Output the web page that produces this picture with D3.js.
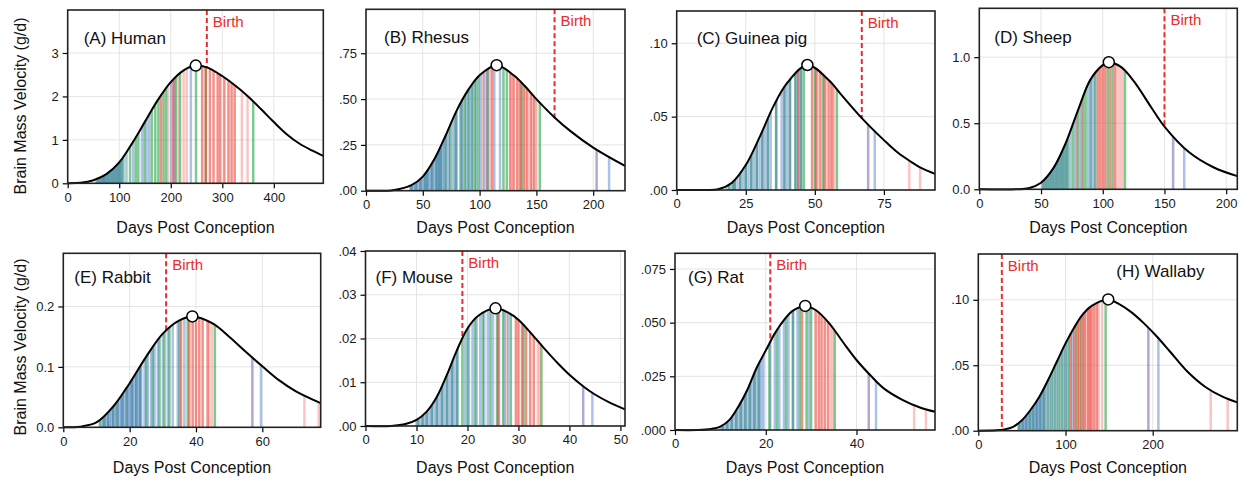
<!DOCTYPE html>
<html>
<head>
<meta charset="utf-8">
<script src="https://cdn.jsdelivr.net/npm/d3@7"></script>
<style>
  body { margin: 0; background: #fff; }
  svg text { font-family: "Liberation Sans", Arial, Helvetica, sans-serif; }
  .grid line { stroke: #e4e4e4; stroke-width: 1; }
  .axis path { display: none; }
  .axis line { stroke: #000; stroke-width: 1.2; }
  .axis text { font-size: 13px; fill: #1a1a1a; }
  .frame { fill: none; stroke: #222; stroke-width: 1.6; }
  .curve { fill: none; stroke: #000; stroke-width: 2; }
  .birth { stroke: #ee2a2a; stroke-width: 2; stroke-dasharray: 5,3; }
  .birth-label { fill: #ee2a2a; font-size: 15px; }
  .panel-title { font-size: 17px; fill: #111; }
  .axis-title { font-size: 16px; fill: #111; }
</style>
</head>
<body>
<div id="chart"></div>
<script>
// ---- data ----
const panelNames = ["(A) Human", "(B) Rhesus", "(C) Guinea pig", "(D) Sheep",
                    "(E) Rabbit", "(F) Mouse", "(G) Rat", "(H) Wallaby"];
const birthDays  = [270, 166, 67, 150, 31, 19, 21, 27];
const peakDays   = [248.5, 115, 47.3, 104.9, 38.9, 25.5, 28.7, 149];
const peakValues = [2.71, 0.685, 0.0852, 0.962, 0.1835, 0.0269, 0.0578, 0.1003];

const xTicks = [
  [0, 100, 200, 300, 400], [0, 50, 100, 150, 200], [0, 25, 50, 75], [0, 50, 100, 150, 200],
  [0, 20, 40, 60], [0, 10, 20, 30, 40, 50], [0, 20, 40], [0, 100, 200]
];
const yTicks = [
  [0, 1, 2, 3], [0, 0.25, 0.5, 0.75], [0, 0.05, 0.1], [0, 0.5, 1.0],
  [0, 0.1, 0.2], [0, 0.01, 0.02, 0.03, 0.04], [0, 0.025, 0.05, 0.075], [0, 0.05, 0.1]
];

// brain mass velocity curves: [day, g/d]
const curveA = [[0,0],[25,0.01],[50,0.07],[75,0.21],[100,0.48],[125,0.92],[150,1.42],[175,1.92],
  [200,2.33],[225,2.6],[248.5,2.71],[270,2.67],[300,2.47],[325,2.25],[350,2.0],[375,1.71],
  [400,1.41],[425,1.13],[450,0.91],[475,0.75],[496,0.63]];
const curveB = [[0,0],[25,0.004],[40,0.03],[50,0.077],[60,0.17],[70,0.3],[80,0.44],[90,0.55],
  [100,0.63],[115,0.685],[130,0.63],[140,0.57],[150,0.5],[166,0.4],[180,0.325],[200,0.235],[228,0.135]];
const curveC = [[0,0],[10,0],[15,0.0005],[20,0.005],[25,0.017],[30,0.036],[35,0.057],[40,0.073],
  [47.3,0.0852],[55,0.075],[60,0.064],[67,0.049],[75,0.034],[80,0.0255],[85,0.019],[89,0.0145],[93.5,0.011]];
const curveD = [[0,0],[30,0],[40,0.008],[50,0.05],[60,0.16],[70,0.35],[80,0.6],[90,0.83],
  [100,0.94],[104.9,0.962],[115,0.925],[125,0.82],[140,0.61],[150,0.475],[170,0.28],[190,0.165],[209,0.1]];
const curveE = [[0,0],[5,0.001],[10,0.008],[15,0.034],[20,0.073],[25,0.117],[30,0.155],[35,0.177],
  [38.9,0.1835],[45,0.172],[50,0.15],[55,0.125],[60,0.101],[65,0.078],[70,0.06],[77.6,0.04]];
const curveF = [[0,0],[5,0],[8,0.0005],[10,0.0014],[12,0.0033],[14,0.0067],[16,0.0118],[18,0.0175],
  [20,0.0223],[22,0.0251],[25.5,0.0269],[28,0.0259],[30,0.0243],[33,0.0205],[35,0.0178],[38,0.014],
  [40,0.0117],[43,0.0088],[45,0.0072],[48,0.0053],[50.9,0.0038]];
const curveG = [[0,0],[5,0],[8,0.0005],[10,0.0016],[12,0.0047],[14,0.011],[16,0.019],[18,0.029],
  [20,0.037],[22,0.045],[24,0.0512],[26,0.0556],[28.7,0.0578],[31,0.0559],[34,0.0497],[37,0.041],
  [40,0.0326],[43,0.0256],[46,0.0194],[50,0.0142],[54,0.0105],[57.3,0.0085]];
const curveH = [[0,0],[20,0.0003],[30,0.001],[40,0.003],[50,0.008],[60,0.016],[70,0.026],[80,0.0387],
  [90,0.0527],[100,0.0667],[110,0.0789],[120,0.089],[130,0.0954],[149,0.1003],[160,0.0972],
  [175,0.0908],[190,0.082],[205,0.0718],[220,0.0603],[240,0.045],[260,0.0336],[280,0.026],[297,0.0216]];

// coloured gene-timing stripes (days), one list per colour
const greenA = [56,60,64,68,71,75,79,83,87,91,95,99,103,108,121,132,137,149,163,170,176,186,191,210,218,249,268,360];
const blueA  = [58,62,66,70,73,77,81,85,89,93,97,101,105,114,127,144,153,158,201,207,239];
const redA   = [181,205,261,268,276,283,291,296,304,312,318,324];
const pinkA  = [195,215,225,231,338,349];

const greenB = [40,44,48,52,54,58,62,64,66,70,74,79,84,87,90,93,96,99,107,121,124,137,153];
const blueB  = [39,40.5,42,43.5,45,46.5,48,49.5,51,52.5,54,55.5,57,58.5,60,61.5,63,64.5,66,67.5,
  69,71,73,76,78,80,83,85,88,91,94,97,101,104,107,113,118,214];
const redB   = [111,127,130,133,136,139,142,145,148];
const pinkB  = [103,106,109,128.5,134.5,140.5,146.5,150];

const greenC = [19,20.5,21,23,25,27,29,31,33,36,39,41,43,45,46,50,53,58];
const blueC  = [18,19,20,21,22,23,24,25,26,27,28,29,30,31,32,33,34,36,38,39,40,41,43,44,45,71.7];
const redC   = [44,49,50.5,52,53.5,55,56];
const pinkC  = [51,54,56.5,57,84.2,88.1];

const greenD = [52,54,56,58,60,62,64,66,68,70,72,76,80,84,86,90,94,104,108,118];
const blueD  = [51,53,55,57,59,61,63,65,67,69,71,74,78,82,88,91,93,166];
const redD   = [96,98,100,102,106,110];
const pinkD  = [79,83,112,114,116];

const greenE = [11,12.3,13.5,15,16.3,17.8,19.2,20.7,22,23.2,25,27,29,30.5,32,35,37.5,45.7];
const blueE  = [11.5,12,12.5,13,13.5,14,14.5,15,15.5,16,16.5,17,17.5,18,18.5,19,19.5,20,20.5,21,
  21.5,22,22.5,23,23.5,24.5,25.5,26.5,27.5,28.5,30,31.5,33,34.5,36.5,59.6];
const redE   = [35.5,38,39,40,41,42,43.5];
const pinkE  = [44,44.8,72.7,77];

const greenF = [10.3,11.2,12,13,14,15,16,17,18,19,20,21.5,23,24.5,25.8,27,28.5,31,34.5];
const blueF  = [10,10.5,11,11.5,12,12.5,13,13.5,14,14.5,15,15.5,16,16.5,17,17.5,18,19.5,20.3,21,
  21.8,22.5,23.3,24,25,26.2,27.3,28,44.5];
const redF   = [26,29.5,30,30.7,31.5,32.3,33];
const pinkF  = [27.7,33.8,34.2];

const greenG = [10.5,11.5,12.5,13.5,14.5,15.5,16.5,17.5,18.5,20.8,22.5,24.5,26,27.5,29,30,35.2];
const blueG  = [10,10.5,11,11.5,12,12.5,13,13.5,14,14.5,15,15.5,16,16.5,17,17.5,18,18.5,19,19.5,
  21,22,23,24,25,26,27,29.5,44.3];
const redG   = [28,31,31.7,32.3,33,33.7];
const pinkG  = [34.3,34.8,52.7,55.3];

const greenH = [47,51,55,59,63,67,71,75,80,84,88,92,96,100,104,112,118,146];
const blueH  = [46,48,50,52,54,56,58,60,62,64,66,68,70,72,74,76,78,82,86,90,94,98,102,108,206.5];
const redH   = [106,110,114,116,120,122,126,128,130,133,136];
const pinkH  = [124,138,142,266.5,286];

// the lone mauve stripe after the main burst, per panel A..H
const purpleDays = [[], [203], [69.3], [157], [57], [42.7], [42.7], [195]];

// ---- layout (pixel boxes per panel, scale extents) ----
const LAYOUT = [
  { l: 67.7,  t: 10,    r: 323.3,  b: 183.3, xMax: 496,  yMax: 3.99,  fmt: "d",   tx: 16,  ty: 34 },
  { l: 366,   t: 9.3,   r: 625,    b: 190.7, xMax: 228,  yMax: 0.99,  fmt: ".2f", tx: 18,  ty: 34 },
  { l: 676.7, t: 11,    r: 935,    b: 190,   xMax: 93.5, yMax: 0.122, fmt: ".2f", tx: 20,  ty: 33 },
  { l: 979.3, t: 8.3,   r: 1237.3, b: 189.3, xMax: 209,  yMax: 1.37,  fmt: ".1f", tx: 15,  ty: 35 },
  { l: 63.3,  t: 253.3, r: 320.7,  b: 427.3, xMax: 77.6, yMax: 0.288, fmt: ".1f", tx: 11,  ty: 30 },
  { l: 365.5, t: 251,   r: 625,    b: 426,   xMax: 50.9, yMax: 0.04,  fmt: ".2f", tx: 10,  ty: 32 },
  { l: 675,   t: 253.3, r: 935,    b: 430,   xMax: 57.3, yMax: 0.0823,fmt: ".3f", tx: 13,  ty: 30 },
  { l: 978.3, t: 254,   r: 1237.3, b: 430.7, xMax: 297,  yMax: 0.135, fmt: ".2f", tx: 138, ty: 23 }
];
const XTITLE_Y = [233, 473];
const COLOR = {
  green:  "rgba(40,165,65,0.6)",
  blue:   "rgba(70,120,200,0.45)",
  red:    "rgba(235,70,60,0.6)",
  pink:   "rgba(240,105,100,0.38)",
  purple: "rgba(130,110,180,0.6)"
};
const STRIPE_W = 2.5;

const curves  = [curveA, curveB, curveC, curveD, curveE, curveF, curveG, curveH];
const stripes = [
  { green: greenA, blue: blueA, red: redA, pink: pinkA },
  { green: greenB, blue: blueB, red: redB, pink: pinkB },
  { green: greenC, blue: blueC, red: redC, pink: pinkC },
  { green: greenD, blue: blueD, red: redD, pink: pinkD },
  { green: greenE, blue: blueE, red: redE, pink: pinkE },
  { green: greenF, blue: blueF, red: redF, pink: pinkF },
  { green: greenG, blue: blueG, red: redG, pink: pinkG },
  { green: greenH, blue: blueH, red: redH, pink: pinkH }
].map((s, i) => ({ ...s, purple: purpleDays[i] }));

const svg = d3.select("#chart").append("svg")
  .attr("width", 1245).attr("height", 478);
const defs = svg.append("defs");
const smooth = d3.curveCatmullRom.alpha(0.5);

LAYOUT.forEach((L, i) => {
  const x = d3.scaleLinear().domain([0, L.xMax]).range([L.l, L.r]);
  const y = d3.scaleLinear().domain([0, L.yMax]).range([L.b, L.t]);
  const g = svg.append("g").attr("class", "panel");
  const data = curves[i];

  // gridlines
  const grid = g.append("g").attr("class", "grid");
  grid.selectAll(".gx").data(xTicks[i].filter(t => t > 0)).join("line")
    .attr("x1", d => x(d)).attr("x2", d => x(d)).attr("y1", L.t).attr("y2", L.b);
  grid.selectAll(".gy").data(yTicks[i].filter(t => t > 0)).join("line")
    .attr("x1", L.l).attr("x2", L.r).attr("y1", d => y(d)).attr("y2", d => y(d));

  // clip regions under and above the curve
  const under = d3.area().x(d => x(d[0])).y0(L.b).y1(d => y(d[1])).curve(smooth);
  const above = d3.area().x(d => x(d[0])).y0(L.t).y1(d => y(d[1])).curve(smooth);
  defs.append("clipPath").attr("id", "under" + i).append("path").datum(data).attr("d", under);
  defs.append("clipPath").attr("id", "above" + i).append("path").datum(data).attr("d", above);

  // stripes, clipped to the area under the curve
  const sg = g.append("g").attr("clip-path", `url(#under${i})`);
  ["green", "blue", "pink", "red", "purple"].forEach(k => {
    sg.selectAll(".s-" + k).data(stripes[i][k]).join("rect")
      .attr("class", "s-" + k)
      .attr("x", d => x(d) - STRIPE_W / 2).attr("width", STRIPE_W)
      .attr("y", L.t).attr("height", L.b - L.t)
      .attr("fill", COLOR[k]);
  });

  // birth marker (only drawn above the curve)
  g.append("line").attr("class", "birth").attr("clip-path", `url(#above${i})`)
    .attr("x1", x(birthDays[i])).attr("x2", x(birthDays[i]))
    .attr("y1", L.t).attr("y2", L.b);
  g.append("text").attr("class", "birth-label")
    .attr("x", x(birthDays[i]) + 6).attr("y", L.t + 17).text("Birth");

  // velocity curve
  g.append("path").datum(data).attr("class", "curve")
    .attr("d", d3.line().x(d => x(d[0])).y(d => y(d[1])).curve(smooth));

  // peak
  g.append("circle").attr("cx", x(peakDays[i])).attr("cy", y(peakValues[i])).attr("r", 5.5)
    .attr("fill", "#fff").attr("stroke", "#000").attr("stroke-width", 1.5);

  // axes
  const f = d3.format(L.fmt);
  const yFmt = L.fmt === "d" || L.fmt === ".1f" ? f : (d => f(d).replace(/^0\./, "."));
  g.append("g").attr("class", "axis")
    .attr("transform", `translate(0,${L.b})`)
    .call(d3.axisBottom(x).tickValues(xTicks[i]).tickSize(5).tickPadding(4).tickFormat(d3.format("d")));
  g.append("g").attr("class", "axis")
    .attr("transform", `translate(${L.l},0)`)
    .call(d3.axisLeft(y).tickValues(yTicks[i]).tickSize(5).tickPadding(4).tickFormat(yFmt));

  g.append("rect").attr("class", "frame")
    .attr("x", L.l).attr("y", L.t).attr("width", L.r - L.l).attr("height", L.b - L.t);

  g.append("text").attr("class", "panel-title")
    .attr("x", L.l + L.tx).attr("y", L.t + L.ty).text(panelNames[i]);

  g.append("text").attr("class", "axis-title").attr("text-anchor", "middle")
    .attr("x", (L.l + L.r) / 2).attr("y", XTITLE_Y[i < 4 ? 0 : 1])
    .text("Days Post Conception");
});

// shared y-axis titles on the left column
[106, 347].forEach(cy => {
  svg.append("text").attr("class", "axis-title").attr("text-anchor", "middle")
    .attr("transform", `translate(26,${cy}) rotate(-90)`)
    .text("Brain Mass Velocity (g/d)");
});
</script>
</body>
</html>
